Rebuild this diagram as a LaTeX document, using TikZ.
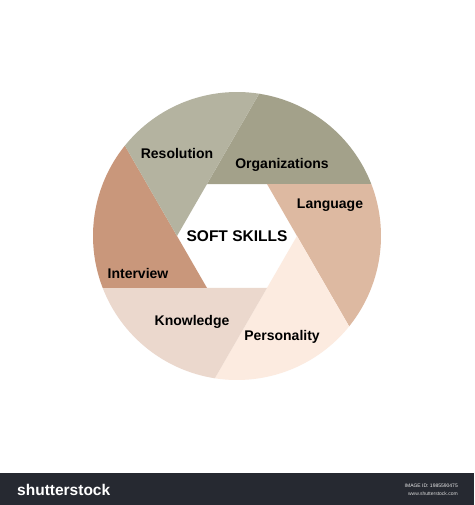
\documentclass[tikz,border=0pt]{standalone}
\usepackage{fontspec}
\setmainfont{Liberation Sans}
\definecolor{cOrg}{HTML}{A3A18A}
\definecolor{cRes}{HTML}{B4B3A0}
\definecolor{cInt}{HTML}{C9977B}
\definecolor{cLan}{HTML}{DDB9A1}
\definecolor{cKno}{HTML}{EBD8CD}
\definecolor{cPer}{HTML}{FCEBE0}
\definecolor{cBar}{HTML}{262931}
\tikzset{
  lbl/.style={font=\fontsize{14}{16}\selectfont\bfseries, text=black, inner sep=0pt},
  ttl/.style={font=\fontsize{15.5}{17}\selectfont\bfseries, text=black, inner sep=0pt},
}
\newcommand{\blade}[2]{%
  \fill[#2] ($(C)+(#1:60)$) -- ($(C)+(#1-60:60)$) -- ($(C)+(#1-98.85:144)$)
    arc[start angle=#1-98.85, end angle=#1-38.85, radius=144] -- cycle;}
\usetikzlibrary{calc}
\begin{document}
\begin{tikzpicture}[x=1pt,y=1pt]
\useasboundingbox (0,0) rectangle (474,-505);
\fill[white] (0,0) rectangle (474,-505);
\coordinate (C) at (237,-236);
\blade{120}{cOrg}
\blade{60}{cLan}
\blade{0}{cPer}
\blade{-60}{cKno}
\blade{-120}{cInt}
\blade{180}{cRes}
\node[lbl] (res) at (177,-153) {Resolution};
\node[lbl] (org) at (282,-165) {Organizations};
\node[lbl] (lan) at (330,-205) {Language};
\node[ttl] (soft) at (237,-236) {SOFT SKILLS};
\node[lbl] (int) at (138,-273) {Interview};
\node[lbl] (kno) at (192,-322) {Knowledge};
\node[lbl] (per) at (282,-337) {Personality};
% bottom bar
\fill[cBar] (0,-473) rectangle (474,-505);
\node[anchor=west, text=white, inner sep=0pt, font=\fontsize{15.5}{17}\selectfont\bfseries] (logo) at (17,-490) {shutterstock};
\node[anchor=east, text=white!85!gray, inner sep=0pt, font=\fontsize{5}{6}\selectfont] (imid) at (458,-486) {IMAGE ID: 1985590475};
\node[anchor=east, text=white!70!gray, inner sep=0pt, font=\fontsize{5}{6}\selectfont] (www) at (458,-494) {www.shutterstock.com};
\end{tikzpicture}
\end{document}
